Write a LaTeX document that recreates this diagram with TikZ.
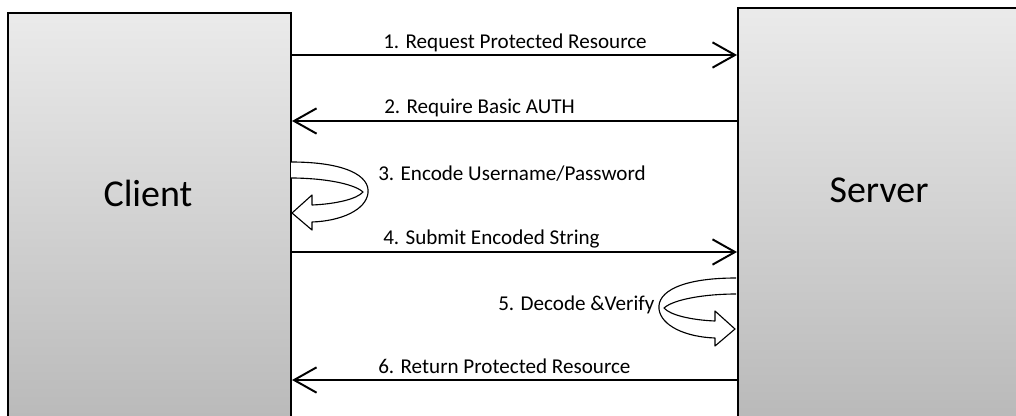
\documentclass[tikz,border=0pt]{standalone}
\usepackage{fontspec}
\setmainfont{Carlito}
\usetikzlibrary{arrows.meta}

\begin{document}
\begin{tikzpicture}[x=0.025cm, y=-0.025cm,
    box/.style={draw, line width=1.4pt, top color=black!8, bottom color=black!28, inner sep=0pt, anchor=north west},
    msg/.style={line width=1.4pt, -{Straight Barb[length=16pt,width=18pt,line width=1.4pt]}},
    lbl/.style={anchor=base west, inner sep=0pt, font=\fontsize{15}{18}\selectfont},
    side/.style={inner sep=0pt, font=\fontsize{27}{32}\selectfont},
    selfloop/.pic={
        \filldraw[fill=white, line width=0.8pt, line join=round]
            (0,0) .. controls (55,0) and (79,14) .. (77,31)
            .. controls (75,48) and (50,59) .. (21,60)
            -- (21,68) -- (1,51) -- (21,33) -- (21,43)
            .. controls (45,42) and (66,37) .. (72,30)
            .. controls (62,21) and (30,16) .. (0,16);
    }]
    \useasboundingbox (0,0) rectangle (1016,415);
    \clip (0,0) rectangle (1016,415);

    % Client and Server
    \node[box, minimum width=7.075cm, minimum height=10.6cm] (client) at (7,12) {};
    \node[box, minimum width=7.5cm, minimum height=10.6cm] (server) at (737,7) {};
    \node[side] (clientname) at (148,193) {Client};
    \node[side] (servername) at (879,190) {Server};

    % Messages
    \draw[msg] (client.east |- 0,55) -- (server.west |- 0,55);
    \node[lbl] (m1) at (383,48) {1. Request Protected Resource};

    \draw[msg] (server.west |- 0,121) -- (client.east |- 0,121);
    \node[lbl] (m2) at (384,113) {2. Require Basic AUTH};

    \pic at (291,162) {selfloop};
    \node[lbl] (m3) at (378,180) {3. Encode Username/Password};

    \draw[msg] (client.east |- 0,252) -- (server.west |- 0,252);
    \node[lbl] (m4) at (383,244) {4. Submit Encoded String};

    \pic[xscale=-1] at (736,278) {selfloop};
    \node[lbl] (m5) at (498,310) {5. Decode \&Verify};

    \draw[msg] (server.west |- 0,380) -- (client.east |- 0,380);
    \node[lbl] (m6) at (378,373) {6. Return Protected Resource};
\end{tikzpicture}
\end{document}
